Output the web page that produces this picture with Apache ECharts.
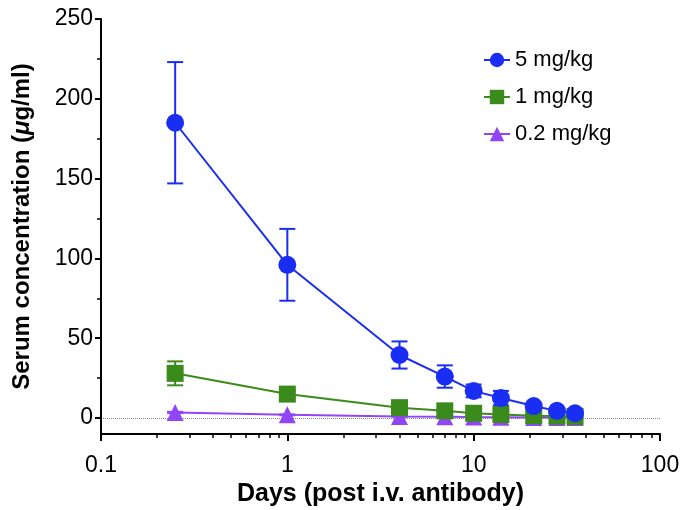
<!DOCTYPE html>
<html>
<head>
<meta charset="utf-8">
<script src="https://cdn.jsdelivr.net/npm/echarts@6/dist/echarts.min.js"></script>
<style>html,body{margin:0;padding:0;background:#fff}#c{width:680px;height:510px}</style>
</head>
<body>
<div id="c"></div>
<script>
const days = [0.25, 1, 4, 7, 10, 14, 21, 28, 35];
const dose5 = [185, 96, 39.5, 26, 17, 12.5, 7.5, 4.5, 3];
const dose5Err = [38, 22.5, 8.5, 7, 4, 4.5, 1.5, 1, 0.8];
const dose1 = [28, 15, 6.5, 4.5, 3, 2.2, 1.5, 1.2, 1];
const dose1Err = [7.5, 2, 1, 0.8, 0.6, 0.5, 0.3, 0.3, 0.3];
const dose02 = [3.5, 2, 1, 0.8, 0.6, 0.5, 0.4, 0.3, 0.3];
const dose02Err = [0.4, 0.3, 0.2, 0.2, 0.1, 0.1, 0.1, 0.1, 0.1];
const names = ['5 mg/kg', '1 mg/kg', '0.2 mg/kg'];
const colors = ['#1a2df2', '#3b8a1c', '#9146f5'];
const symbols = ['circle', 'rect', 'triangle'];
const yMajorTicks = [0, 50, 100, 150, 200, 250];
const yMinorTicks = [25, 75, 125, 175, 225];
const xMajorTicks = [0.1, 1, 10, 100];
const xMinorTicks = [0.2,0.3,0.4,0.5,0.6,0.7,0.8,0.9,2,3,4,5,6,7,8,9,20,30,40,50,60,70,80,90];

const font = 'Liberation Sans, Arial, Helvetica, sans-serif';
const allVals = [dose5, dose1, dose02];
const allErr = [dose5Err, dose1Err, dose02Err];

function errSeries(idx) {
  const v = allVals[idx], e = allErr[idx];
  return {
    type: 'custom',
    xAxisIndex: 0, yAxisIndex: 0,
    z: 1,
    silent: true,
    data: days.map((d, i) => [d, v[i] - e[i], v[i] + e[i]]),
    renderItem: function (params, api) {
      const lo = api.coord([api.value(0), api.value(1)]);
      const hi = api.coord([api.value(0), api.value(2)]);
      const hw = 8;
      const style = { stroke: colors[idx], lineWidth: 2, fill: null };
      return {
        type: 'group',
        children: [
          { type: 'line', shape: { x1: lo[0], y1: lo[1], x2: hi[0], y2: hi[1] }, style: style },
          { type: 'line', shape: { x1: lo[0] - hw, y1: lo[1], x2: lo[0] + hw, y2: lo[1] }, style: style },
          { type: 'line', shape: { x1: hi[0] - hw, y1: hi[1], x2: hi[0] + hw, y2: hi[1] }, style: style }
        ]
      };
    }
  };
}

function lineSeries(idx) {
  const s = {
    name: names[idx],
    type: 'line',
    xAxisIndex: 0, yAxisIndex: 0,
    z: 3,
    symbol: symbols[idx],
    symbolSize: idx === 0 ? 18 : 17,
    color: colors[idx],
    lineStyle: { width: 2, color: colors[idx] },
    itemStyle: { color: colors[idx] },
    data: days.map((d, i) => [d, allVals[idx][i]])
  };
  if (idx === 0) {
    s.markLine = {
      silent: true,
      symbol: 'none',
      label: { show: false },
      lineStyle: { color: '#888', type: 'dotted', width: 1 },
      data: [{ yAxis: 0 }],
      z: 0
    };
  }
  return s;
}

const chart = echarts.init(document.getElementById('c'));
chart.setOption({
  animation: false,
  backgroundColor: '#fff',
  grid: { left: 101, right: 20, top: 19, bottom: 76, containLabel: false, outerBoundsMode: 'none' },
  legend: {
    data: names,
    orient: 'vertical',
    left: 478, top: 44,
    itemWidth: 26, itemHeight: 18, itemGap: 15,
    textStyle: { fontFamily: font, fontSize: 22, color: '#000' }
  },
  xAxis: [{
    type: 'log', logBase: 10, min: 0.1, max: 100,
    name: 'Days (post i.v. antibody)',
    nameLocation: 'middle', nameGap: 48,
    nameTextStyle: { fontFamily: font, fontSize: 25, fontWeight: 'bold', color: '#000' },
    axisLine: { show: true, onZero: false, lineStyle: { color: '#000', width: 2 } },
    axisTick: { show: true, length: 7, lineStyle: { color: '#000', width: 2 }, customValues: xMajorTicks },
    axisLabel: { fontFamily: font, fontSize: 23, color: '#000', margin: 20, customValues: xMajorTicks, formatter: v => String(v) },
    splitLine: { show: false },
    minorTick: { show: false }
  }, {
    type: 'log', logBase: 10, min: 0.1, max: 100, position: 'bottom',
    axisLine: { show: false, onZero: false },
    axisTick: { show: true, length: 4, lineStyle: { color: '#000', width: 1.5 }, customValues: xMinorTicks },
    axisLabel: { show: false },
    splitLine: { show: false }
  }],
  yAxis: [{
    type: 'value', min: -10, max: 250,
    name: 'Serum concentration ({i|μ}g/ml)',
    nameLocation: 'middle', nameGap: 67,
    nameTextStyle: { fontFamily: font, fontSize: 24, fontWeight: 'bold', color: '#000',
      rich: { i: { fontFamily: font, fontSize: 24, fontWeight: 'bold', fontStyle: 'italic', color: '#000' } } },
    axisLine: { show: true, onZero: false, lineStyle: { color: '#000', width: 2 } },
    axisTick: { show: true, length: 6, lineStyle: { color: '#000', width: 2 }, customValues: yMajorTicks },
    axisLabel: { fontFamily: font, fontSize: 23, color: '#000', margin: 8, customValues: yMajorTicks },
    splitLine: { show: false }
  }, {
    type: 'value', min: -10, max: 250, position: 'left',
    axisLine: { show: false, onZero: false },
    axisTick: { show: true, length: 4, lineStyle: { color: '#000', width: 1.5 }, customValues: yMinorTicks },
    axisLabel: { show: false },
    splitLine: { show: false }
  }],
  series: [errSeries(0), errSeries(1), errSeries(2), lineSeries(2), lineSeries(1), lineSeries(0)]
});
</script>
</body>
</html>
